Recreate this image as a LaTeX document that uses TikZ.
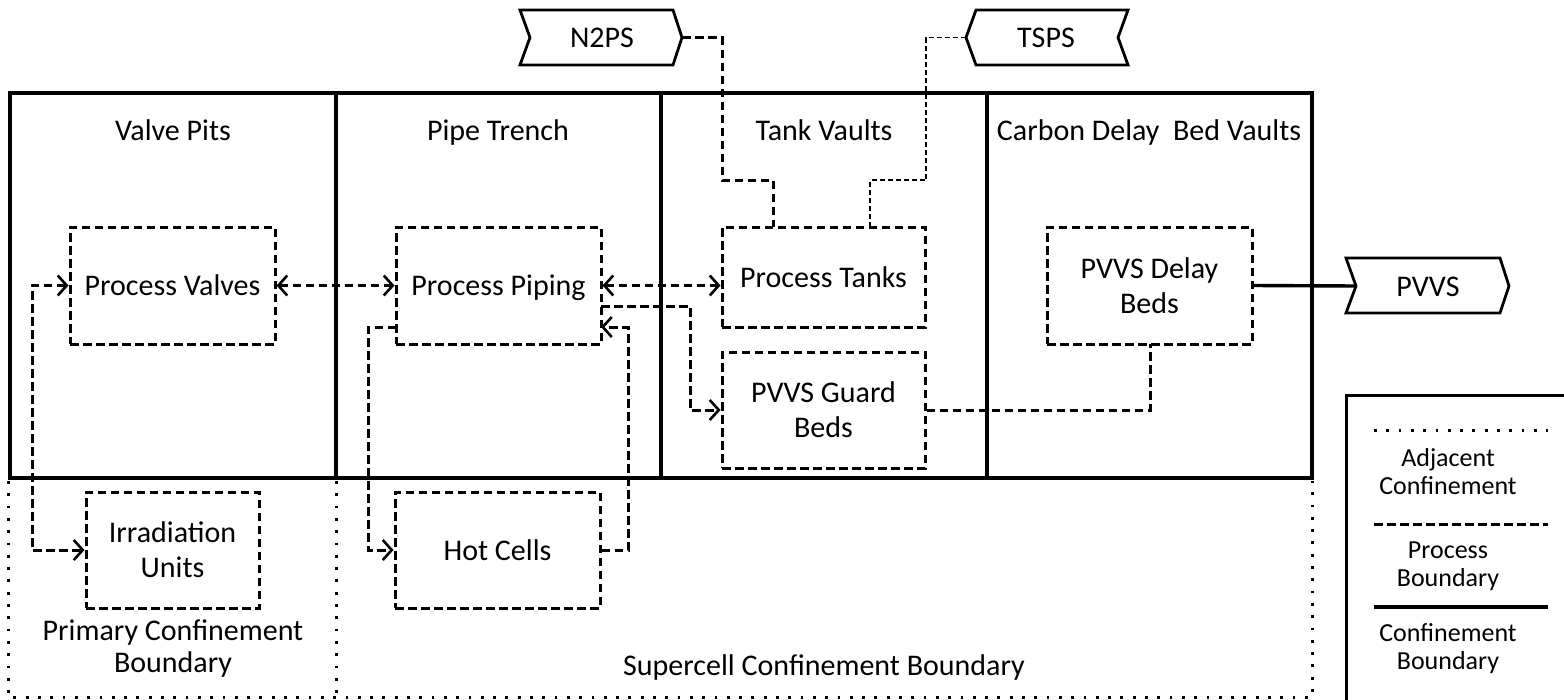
\documentclass[tikz,border=0pt]{standalone}
\usepackage{fontspec}
\setmainfont{Carlito}
\usetikzlibrary{arrows.meta}
\begin{document}
\begin{tikzpicture}[x=1pt,y=-1pt,
  every node/.style={font=\fontsize{30}{35}\selectfont, inner sep=0pt},
  sl/.style={text height=21pt, text depth=1pt},
  ml/.style={align=center},
  conf/.style={line width=3.4pt},
  procline/.style={line width=3pt, dash pattern=on 8.5pt off 4.5pt},
  thinproc/.style={line width=1.9pt, dash pattern=on 5pt off 3pt},
  adjline/.style={line width=3pt, dash pattern=on 2.8pt off 9.5pt},
  procbox/.style={draw, procline, minimum width=205pt, minimum height=117pt},
  barb/.tip={Straight Barb[length=9pt,width=20pt,line width=2.6pt]},
  legtext/.style={font=\fontsize{26}{28}\selectfont, align=center},
  signal/.style={line width=2.8pt, line join=miter}
]
\useasboundingbox (0,0) rectangle (1564,699);
\clip (0,0) rectangle (1564,699);

% confinement areas
\draw[conf] (10,93) rectangle (1312,478);
\draw[conf] (336,93) -- (336,478);
\draw[conf] (661,93) -- (661,478);
\draw[conf] (987,93) -- (987,478);
\node[sl] (tVP) at (173,130) {Valve Pits};
\node[sl] (tPT) at (498,130) {Pipe Trench};
\node[sl] (tTV) at (824,130) {Tank Vaults};
\node[sl] (tCD) at (1149,130) {Carbon Delay\ \ Bed Vaults};

% adjacent confinement
\draw[adjline] (8,481) -- (8,697) -- (1312,697) -- (1312,481);
\draw[adjline] (336,481) -- (336,697);
\node[ml, font=\fontsize{30}{32}\selectfont] (tPC) at (173,649) {Primary Confinement\\Boundary};
\node[sl] (tSC) at (824,665) {Supercell Confinement Boundary};

% process boundaries
\node[procbox, sl] (valves) at (172.5,285.5) {Process Valves};
\node[procbox, sl] (piping) at (498.5,285.5) {Process Piping};
\node[procbox, sl, minimum width=203pt, minimum height=100pt] (tanks) at (823.5,277) {Process Tanks};
\node[procbox, ml, minimum width=203pt, minimum height=116pt] (guard) at (823.5,410) {PVVS Guard\\Beds};
\node[procbox, ml] (delay) at (1149.5,285.5) {PVVS Delay\\Beds};
\node[procbox, ml, minimum width=173pt, minimum height=116pt] (irrad) at (172.5,550) {Irradiation\\Units};
\node[procbox, sl, minimum width=205pt, minimum height=116pt] (hot) at (497.5,550) {Hot Cells};

% external systems
\draw[signal] (520,10) -- (673,10) -- (682,37.5) -- (673,65) -- (520,65) -- (530,37.5) -- cycle;
\node[sl] (n2ps) at (602,37.5) {N2PS};
\coordinate (n2psT) at (682,37.5);
\draw[signal] (976,10) -- (1128,10) -- (1118,37.5) -- (1128,65) -- (976,65) -- (966,37.5) -- cycle;
\node[sl] (tsps) at (1046,37.5) {TSPS};
\coordinate (tspsT) at (966,37.5);
\draw[signal] (1346,258) -- (1500,258) -- (1509,286) -- (1500,313) -- (1346,313) -- (1356,286) -- cycle;
\node[sl] (pvvs) at (1428,286) {PVVS};
\coordinate (pvvsT) at (1356,286);

% connectors
\draw[procline] (n2psT) -- (722,37.5) -- (722,180) -- (773,180) -- (773,227);
\draw[thinproc] (tspsT) -- (926,37.5) -- (926,180) -- (870,180) -- (870,227);
\draw[procline, barb-barb] (valves.east) -- (piping.west);
\draw[procline, barb-barb] (piping.east) -- (tanks.west |- piping.east);
\draw[procline, -barb] (601,306) -- (690,306) -- (690,410) -- (guard.west);
\draw[procline, barb-barb] (valves.west) -- (32,285.5) -- (32,550) -- (irrad.west);
\draw[procline, -barb] (396,327) -- (368,327) -- (368,550) -- (hot.west);
\draw[procline, -barb] (hot.east) -- (628,550) -- (628,327) -- (601,327);
\draw[procline] (guard.east) -- (1150,410) -- (1150,344);
\draw[conf] (delay.east) -- (pvvsT);

% legend
\draw[line width=3pt] (1346,395) rectangle (1580,720);
\draw[adjline] (1374,430) -- (1548,430);
\node[legtext] (lAdj) at (1448,472) {Adjacent\\Confinement};
\draw[procline] (1374,524) -- (1548,524);
\node[legtext] (lProc) at (1448,566) {Process\\Boundary};
\draw[line width=3.4pt] (1374,607) -- (1548,607);
\node[legtext] (lConf) at (1448,649) {Confinement\\Boundary};
\end{tikzpicture}
\end{document}
